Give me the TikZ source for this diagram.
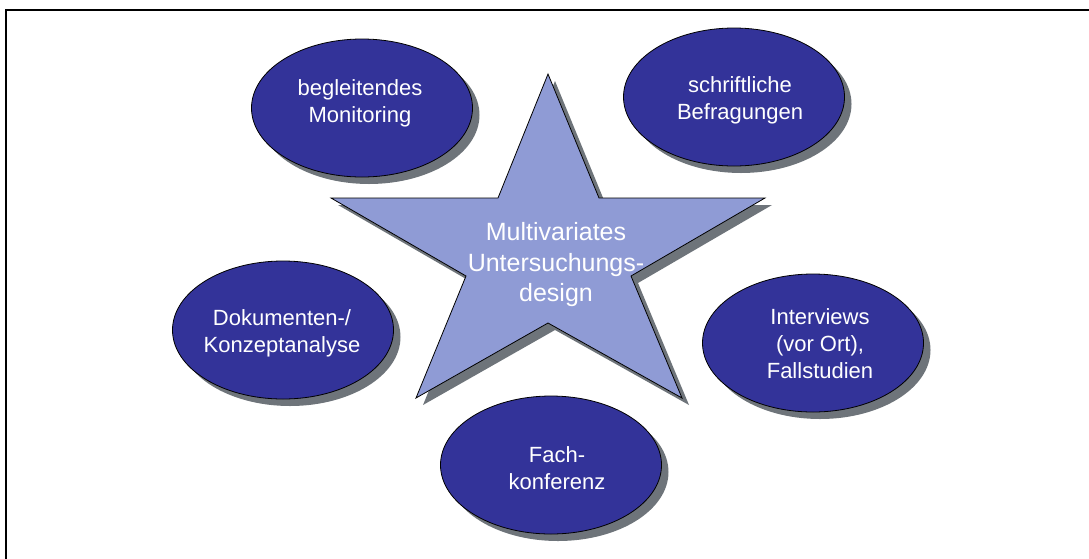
\documentclass[tikz,border=0pt]{standalone}
\usepackage{fontspec}
\setmainfont{Liberation Sans}
\usetikzlibrary{shapes.geometric,shadows}
\definecolor{ovalblue}{RGB}{51,51,153}
\definecolor{starblue}{RGB}{143,155,213}
\definecolor{shadowgray}{RGB}{110,116,122}
\begin{document}
\begin{tikzpicture}[x=1pt,y=-1pt,
  oval/.style={ellipse, draw=black, line width=0.8pt, fill=ovalblue,
    minimum width=221pt, minimum height=138pt, inner sep=0pt,
    general shadow={fill=shadowgray, draw=none, shadow xshift=7pt, shadow yshift=-7pt}},
  ovaltext/.style={text=white, align=center, inner sep=0pt,
    font=\fontsize{22}{27}\selectfont},
  startext/.style={text=white, align=center, inner sep=0pt,
    font=\fontsize{25}{30.5}\selectfont},
  frameline/.style={line width=2pt, draw=black}
]
\useasboundingbox (0,0) rectangle (1089,558);

% open frame: top and left edges
\coordinate (frTR) at (1090,10);
\coordinate (frTL) at (6,10);
\coordinate (frBL) at (6,559);
\draw[frameline] (frTR) -- (frTL) -- (frBL);

% central star with its shadow
\path[fill=shadowgray, shift={(7,7)}]
  (548,74) -- (599,198) -- (765,198) -- (631,276) -- (682,398) -- (548,323)
  -- (416,398) -- (466,276) -- (331,198) -- (498,198) -- cycle;
\draw[fill=starblue, line width=0.8pt]
  (548,74) -- (599,198) -- (765,198) -- (631,276) -- (682,398) -- (548,323)
  -- (416,398) -- (466,276) -- (331,198) -- (498,198) -- cycle;
\node[startext] (core) at (556,265) {Multivariates\\Untersuchungs-\\design};

% surrounding methods
\node[oval] (monitoring) at (362,108) {};
\node[ovaltext] (monitoringT) at (360,103) {begleitendes\\Monitoring};

\node[oval] (befragung) at (734,97) {};
\node[ovaltext] (befragungT) at (740,100) {schriftliche\\Befragungen};

\node[oval] (dokumente) at (283,330) {};
\node[ovaltext] (dokumenteT) at (282,333) {Dokumenten-/\\Konzeptanalyse};

\node[oval] (interviews) at (813,343) {};
\node[ovaltext] (interviewsT) at (820,344) {Interviews\\(vor Ort),\\Fallstudien};

\node[oval] (konferenz) at (551,465) {};
\node[ovaltext] (konferenzT) at (557,468) {Fach-\\konferenz};
\end{tikzpicture}
\end{document}
